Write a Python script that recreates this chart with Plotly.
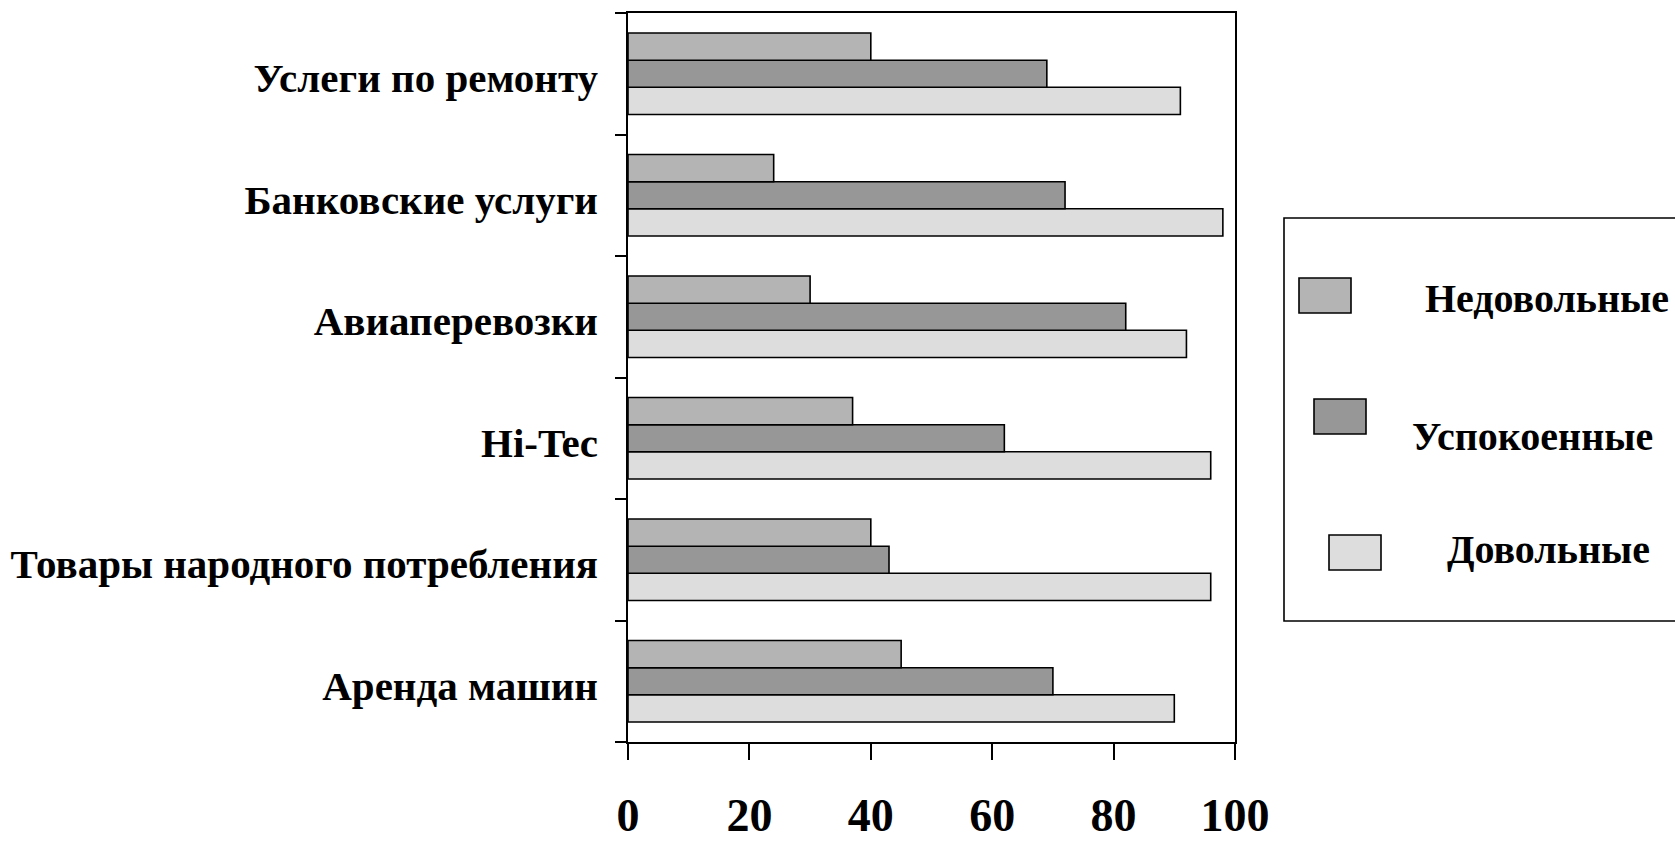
import plotly.graph_objects as go

categories = ["Аренда машин", "Товары народного потребления", "Hi-Tec",
              "Авиаперевозки", "Банковские услуги", "Услеги по ремонту"]
nedovolnye = [45, 40, 37, 30, 24, 40]
uspokoennye = [70, 43, 62, 82, 72, 69]
dovolnye = [90, 96, 96, 92, 98, 91]
series_names = ["Недовольные", "Успокоенные", "Довольные"]
series_colors = ["#b4b4b4", "#979797", "#dddddd"]
x_ticks = [0, 20, 40, 60, 80, 100]

W, H = 1675, 841
L, R, T, B = 628, 440, 13, 99
PW, PH = W - L - R, H - T - B

def px(x):
    return (x - L) / PW

def py(y):
    return (H - B - y) / PH

FONT = "Liberation Serif, Times New Roman, serif"

fig = go.Figure()
values = {"Недовольные": nedovolnye, "Успокоенные": uspokoennye, "Довольные": dovolnye}
# plotted bottom-to-top inside each group: Довольные, Успокоенные, Недовольные
for name, color in reversed(list(zip(series_names, series_colors))):
    fig.add_trace(go.Bar(
        y=categories, x=values[name], name=name, orientation="h",
        marker=dict(color=color, line=dict(color="black", width=1.6)),
        showlegend=False,
    ))

fig.update_layout(
    width=W, height=H,
    margin=dict(l=L, r=R, t=T, b=B, autoexpand=False),
    paper_bgcolor="white", plot_bgcolor="white",
    barmode="group", bargap=0.33, bargroupgap=0,
    font=dict(family=FONT, color="black", size=41, weight="bold"),
)
fig.update_xaxes(
    range=[0, 100], tickvals=x_ticks, ticktext=[str(v) for v in x_ticks],
    showgrid=False, zeroline=False, automargin=False,
    showline=True, linecolor="black", linewidth=1.6, mirror=True,
    ticks="outside", ticklen=16, tickwidth=1.6, tickcolor="black",
    tickfont=dict(family=FONT, size=46, color="black", weight="bold"),
    ticklabelstandoff=16,
)
fig.update_yaxes(
    categoryorder="array", categoryarray=categories,
    showgrid=False, zeroline=False, automargin=False,
    showline=True, linecolor="black", linewidth=1.6, mirror=True,
    ticks="outside", ticklen=11, tickwidth=1.6, tickcolor="black",
    tickson="boundaries",
    tickfont=dict(family=FONT, size=41, color="black", weight="bold"),
    ticklabelstandoff=20, ticklabelshift=4,
)

# manual legend box
shapes = [dict(type="rect", xref="paper", yref="paper",
               x0=px(1284), x1=px(1690), y0=py(621), y1=py(218),
               line=dict(color="black", width=1.6), fillcolor="rgba(0,0,0,0)")]
swatches = [(1299, 278), (1314, 399), (1329, 535)]
text_pos = [(1547, 299), (1532, 436), (1548, 549)]
annotations = []
for (sx, sy), (tx, ty), name, color in zip(swatches, text_pos, series_names, series_colors):
    shapes.append(dict(type="rect", xref="paper", yref="paper",
                       x0=px(sx), x1=px(sx + 52), y0=py(sy + 35), y1=py(sy),
                       line=dict(color="black", width=1.6), fillcolor=color))
    annotations.append(dict(text=name, xref="paper", yref="paper",
                            x=px(tx), y=py(ty), xanchor="center", yanchor="middle",
                            showarrow=False,
                            font=dict(family=FONT, size=40, color="black", weight="bold")))
fig.update_layout(shapes=shapes, annotations=annotations)

fig.write_html("out.html")
